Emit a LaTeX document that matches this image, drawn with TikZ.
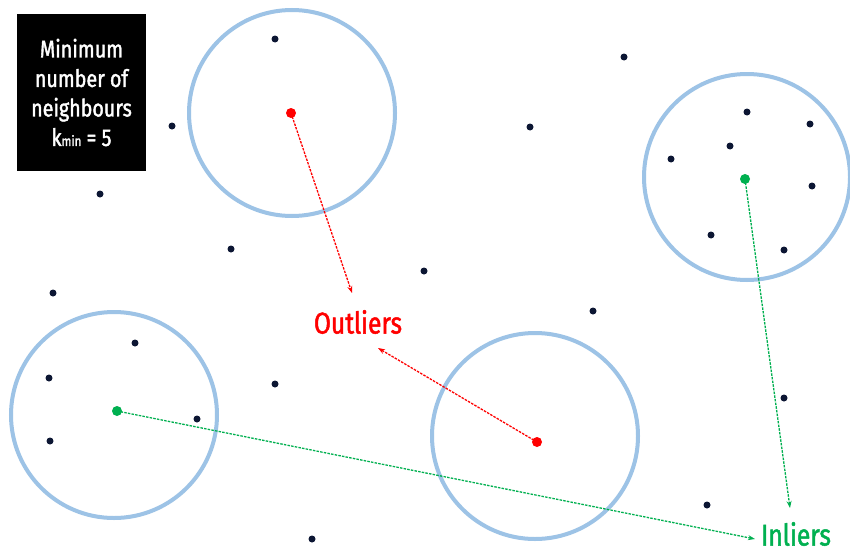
\documentclass[tikz,border=0pt]{standalone}
\usepackage{fontspec}
\newfontfamily\lblfont[FakeStretch=0.82,FakeBold=1.6]{Fira Sans}
\usetikzlibrary{arrows.meta}
\definecolor{ringblue}{HTML}{9DC3E6}
\definecolor{outred}{HTML}{FF0000}
\definecolor{ingreen}{HTML}{00B050}
\definecolor{dotnavy}{HTML}{0C1633}
\tikzset{
  ring/.style={draw=ringblue,line width=4pt,circle,minimum size=206pt,inner sep=0pt},
  pt/.style={circle,fill=dotnavy,minimum size=7pt,inner sep=0pt},
  redpt/.style={circle,fill=outred,minimum size=10pt,inner sep=0pt},
  greenpt/.style={circle,fill=ingreen,minimum size=10pt,inner sep=0pt},
  link/.style={line width=1.3pt,dash pattern=on 2.5pt off 1.2pt,-{Stealth[length=7pt,width=5pt]}},
  lbl/.style={font=\lblfont\fontsize{30}{32}\selectfont,inner sep=0pt},
  infobox/.style={fill=black,text=white,minimum width=129pt,minimum height=157pt,align=center,font=\lblfont\fontsize{24}{29.5}\selectfont,inner sep=0pt}
}
\begin{document}
\begin{tikzpicture}[x=1pt,y=-1pt]
\useasboundingbox (0,0) rectangle (850,554);
\fill[white] (0,0) rectangle (850,554);
% rings
\node[ring] (c1) at (292,113) {};
\node[ring] (c2) at (747,177) {};
\node[ring] (c3) at (114,415) {};
\node[ring] (c4) at (535,436) {};
% info box
\node[infobox] (info) at (81.5,92.5) {Minimum\\number of\\neighbours\\k{\fontsize{14}{14}\selectfont min} = 5};
% dots
\foreach \x/\y [count=\i] in {275/39,624/57,172/126,530/127,100/194,231/249,424/271,53/293,593/311,135/343,49/378,275/384,197/419,50/441,784/398,707/505,312/539,747/112,810/124,730/146,671/159,812/186,711/235,784/250}
  \node[pt] (d\i) at (\x,\y) {};
% special points
\node[redpt] (r1) at (291,113) {};
\node[redpt] (r2) at (537,442) {};
\node[greenpt] (g1) at (745,179) {};
\node[greenpt] (g2) at (117,411) {};
% labels
\node[lbl,text=outred] (out) at (358,322) {Outliers};
\node[lbl,text=ingreen] (in) at (796,534) {Inliers};
\coordinate (oa) at (352,293);
\coordinate (ob) at (378,348);
\coordinate (ia) at (790,508);
\coordinate (ib) at (755,539);
% arrows
\draw[link,outred] (r1.center) -- (oa);
\draw[link,outred] (r2.center) -- (ob);
\draw[link,ingreen] (g1.center) -- (ia);
\draw[link,ingreen] (g2.center) -- (ib);
\end{tikzpicture}
\end{document}
